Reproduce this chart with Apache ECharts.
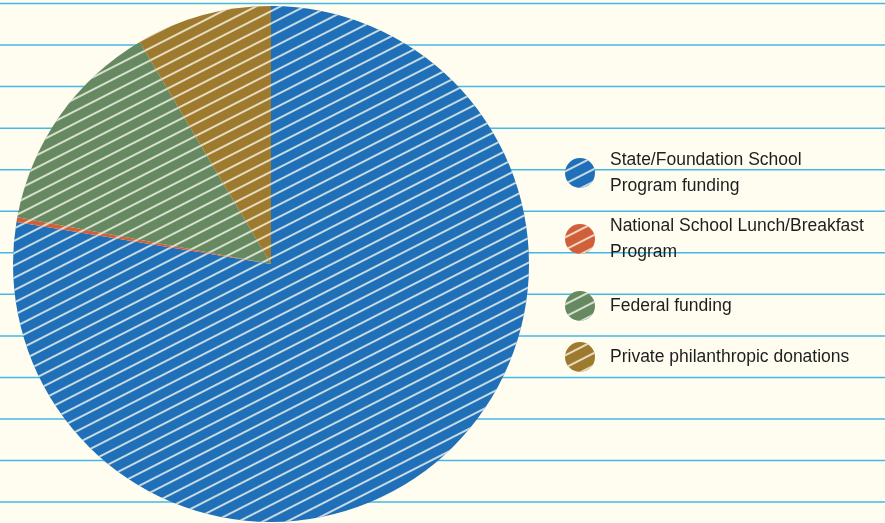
<!DOCTYPE html>
<html>
<head>
<meta charset="utf-8">
<script src="https://cdn.jsdelivr.net/npm/echarts@6/dist/echarts.min.js"></script>
<style>
html,body{margin:0;padding:0;background:#fefdf0;}
#chart{width:885px;height:523px;}
</style>
</head>
<body>
<div id="chart"></div>
<script>
const categories = [
  'State/Foundation School Program funding',
  'National School Lunch/Breakfast Program',
  'Federal funding',
  'Private philanthropic donations'
];
const legendLabels = [
  'State/Foundation School\nProgram funding',
  'National School Lunch/Breakfast\nProgram',
  'Federal funding',
  'Private philanthropic donations'
];
const values = [77.6, 0.3, 13.6, 8.5];
const colors = ['#1f70b8', '#d0603a', '#678962', '#9e7a2e'];

const chart = echarts.init(document.getElementById('chart'), null, {renderer: 'canvas'});

const bgLines = [];
for (let k = 0; k < 13; k++) {
  const y = 3.5 + k * 41.55;
  bgLines.push({
    type: 'line', z: -10, silent: true,
    shape: {x1: 0, y1: y, x2: 885, y2: y},
    style: {stroke: '#45b9e6', lineWidth: 1.5}
  });
}

const legendTops = [147, 213, 291, 342];
const legends = categories.map((c, i) => ({
  data: [c],
  orient: 'vertical',
  left: 565,
  top: legendTops[i],
  padding: 0,
  icon: 'circle',
  itemWidth: 30,
  itemHeight: 30,
  selectedMode: false,
  formatter: () => legendLabels[i],
  textStyle: {
    fontFamily: '"Liberation Sans", Arial, sans-serif',
    fontSize: 17.5,
    lineHeight: 26,
    color: '#1e1e1e',
    padding: [0, 0, 0, 10]
  }
}));

const decal = {
  symbol: 'rect',
  dashArrayX: [[1, 0]],
  dashArrayY: [1.4, 8.5],
  rotation: -Math.PI * 0.15,
  color: 'rgba(254,253,240,0.75)',
  symbolSize: 1
};

chart.setOption({
  backgroundColor: '#fefdf0',
  animation: false,
  graphic: bgLines,
  legend: legends,
  series: [{
    type: 'pie',
    center: [271, 264],
    radius: 258,
    startAngle: 90,
    clockwise: true,
    label: {show: false},
    labelLine: {show: false},
    avoidLabelOverlap: false,
    itemStyle: {borderWidth: 0},
    emphasis: {disabled: true},
    data: categories.map((c, i) => ({
      name: c,
      value: values[i],
      itemStyle: {color: colors[i], decal: decal}
    }))
  }]
});
</script>
</body>
</html>
